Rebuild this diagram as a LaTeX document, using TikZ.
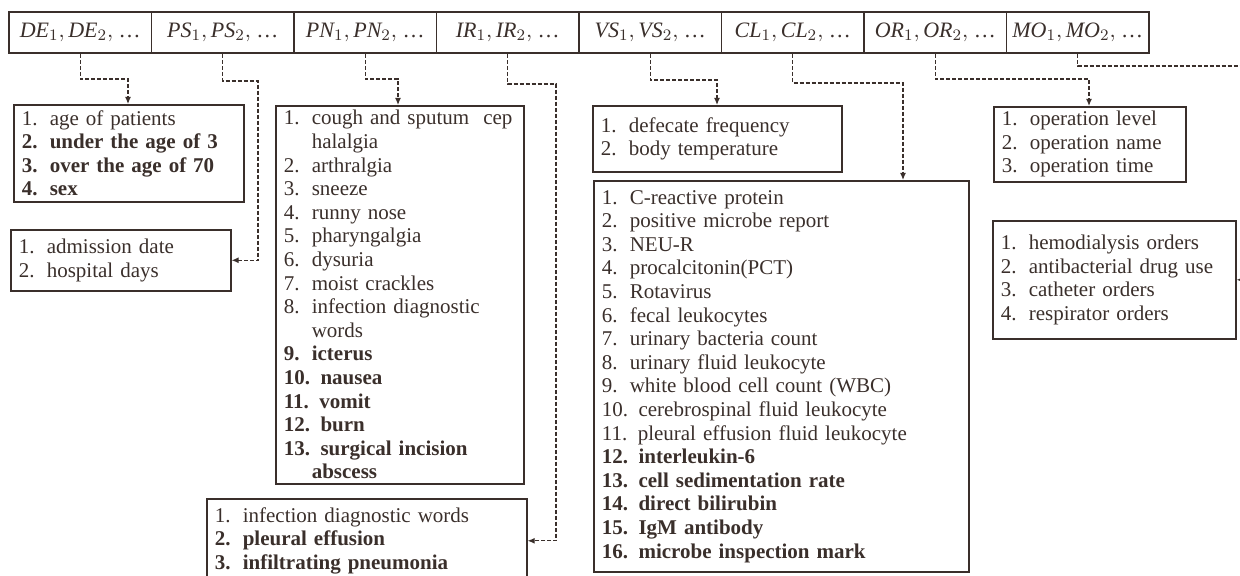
\documentclass[tikz,border=0pt]{standalone}
\usepackage{fontspec}
\setmainfont{Liberation Serif}
\usetikzlibrary{arrows.meta}
\definecolor{ink}{HTML}{3A2F2B}
\newcommand{\itm}[2]{\makebox[14pt][l]{#1}#2}

\begin{document}
\begin{tikzpicture}[x=0.5pt,y=-0.5pt,draw=ink,text=ink,font=\fontsize{10.5}{11.8}\selectfont]
    \tikzstyle{cell}=[draw,line width=0.8pt,minimum width=71.25pt,minimum height=20.5pt,inner sep=0pt,font=\fontsize{11}{12}\selectfont]
    \tikzstyle{listbox}=[draw,line width=0.8pt,anchor=north west,align=left,inner xsep=4pt,inner ysep=0pt]
    \tikzstyle{link}=[line width=0.6pt,dash pattern=on 2pt off 1pt,-{Latex[length=3.5pt,width=3pt]}]

    \useasboundingbox (0,0) rectangle (1240,576);

    % Top row of record fields
    \foreach \name [count=\i from 0] in {DE,PS,PN,IR,VS,CL,OR,MO}
        \node[cell] (C-\name) at (80.25+142.5*\i,32.5) {$\mathit{\name}_1, \mathit{\name}_2,$ …};

    % Demographics
    \node[listbox,text width=107pt,minimum height=48.5pt] (B-DE) at (13,104)
        {\itm{1.}{age of patients}\\
         {\bfseries\itm{2.}{under the age of 3}}\\
         {\bfseries\itm{3.}{over the age of 70}}\\
         {\bfseries\itm{4.}{sex}}};
    % Stay
    \node[listbox,text width=102pt,minimum height=30.5pt] (B-PS) at (10,229)
        {\itm{1.}{admission date}\\
         \itm{2.}{hospital days}};
    % Symptoms
    \node[listbox,text width=116pt,minimum height=189pt] (B-PN) at (275,105)
        {\itm{1.}{cough and sputum\ \ cep}\\
         \itm{}{halalgia}\\
         \itm{2.}{arthralgia}\\
         \itm{3.}{sneeze}\\
         \itm{4.}{runny nose}\\
         \itm{5.}{pharyngalgia}\\
         \itm{6.}{dysuria}\\
         \itm{7.}{moist crackles}\\
         \itm{8.}{infection diagnostic}\\
         \itm{}{words}\\
         {\bfseries\itm{9.}{icterus}}\\
         {\bfseries 10. nausea}\\
         {\bfseries 11. vomit}\\
         {\bfseries 12. burn}\\
         {\bfseries 13. surgical incision}\\
         {\bfseries\itm{}{abscess}}};
    % Imaging
    \node[listbox,text width=152pt,minimum height=42pt] (B-IR) at (206,498)
        {\itm{1.}{infection diagnostic words}\\
         {\bfseries\itm{2.}{pleural effusion}}\\
         {\bfseries\itm{3.}{infiltrating pneumonia}}};
    % Vital signs
    \node[listbox,text width=116.5pt,minimum height=33pt] (B-VS) at (592,105)
        {\itm{1.}{defecate frequency}\\
         \itm{2.}{body temperature}};
    % Laboratory
    \node[listbox,text width=179.5pt,minimum height=195.5pt] (B-CL) at (593,180)
        {\itm{1.}{C-reactive protein}\\
         \itm{2.}{positive microbe report}\\
         \itm{3.}{NEU-R}\\
         \itm{4.}{procalcitonin(PCT)}\\
         \itm{5.}{Rotavirus}\\
         \itm{6.}{fecal leukocytes}\\
         \itm{7.}{urinary bacteria count}\\
         \itm{8.}{urinary fluid leukocyte}\\
         \itm{9.}{white blood cell count (WBC)}\\
         10. cerebrospinal fluid leukocyte\\
         11. pleural effusion fluid leukocyte\\
         {\bfseries 12. interleukin-6}\\
         {\bfseries 13. cell sedimentation rate}\\
         {\bfseries 14. direct bilirubin}\\
         {\bfseries 15. IgM antibody}\\
         {\bfseries 16. microbe inspection mark}};
    % Operations
    \node[listbox,text width=88pt,minimum height=37.5pt] (B-OR) at (993,106)
        {\itm{1.}{operation level}\\
         \itm{2.}{operation name}\\
         \itm{3.}{operation time}};
    % Medical orders
    \node[listbox,text width=113.5pt,minimum height=59pt] (B-MO) at (992,220)
        {\itm{1.}{hemodialysis orders}\\
         \itm{2.}{antibacterial drug use}\\
         \itm{3.}{catheter orders}\\
         \itm{4.}{respirator orders}};

    % Bends of the dashed links
    \coordinate (k-DE) at (128,79);
    \coordinate (k-PS) at (258,81);
    \coordinate (k-PN) at (398,79);
    \coordinate (k-IR) at (556,84);
    \coordinate (k-VS) at (717,80);
    \coordinate (k-CL) at (903,83);
    \coordinate (k-OR) at (1089,79);
    \coordinate (k-MO) at (1256,66);

    % Links from each field to its list
    \foreach \name in {DE,PN,VS,CL,OR}
        \draw[link] (C-\name.south) |- (k-\name) -- (k-\name |- B-\name.north);
    \foreach \name in {PS,IR,MO}
        \draw[link] (C-\name.south) |- (k-\name) |- (B-\name.east);
\end{tikzpicture}
\end{document}
